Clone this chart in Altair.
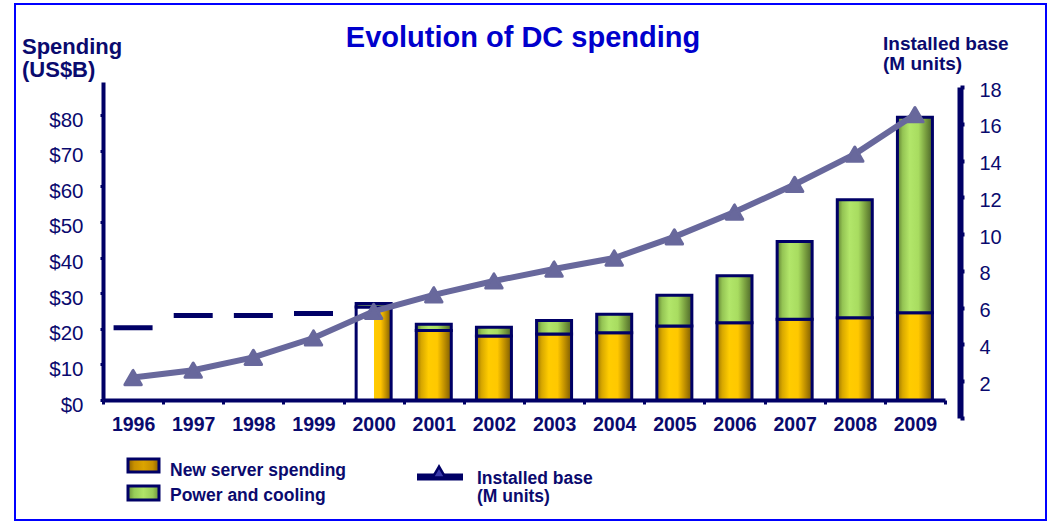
import altair as alt
import pandas as pd

# ---------------- data ----------------
years = [str(y) for y in range(1996, 2010)]
bar_years = ["2000", "2001", "2002", "2003", "2004", "2005", "2006", "2007", "2008", "2009"]
new_server = [26.1, 19.5, 18.0, 18.5, 18.9, 20.8, 21.7, 22.7, 23.1, 24.5]
total_spend = [27.1, 21.3, 20.4, 22.3, 24.1, 29.4, 34.9, 44.5, 56.2, 79.4]
pre_years = ["1996", "1997", "1998", "1999"]
pre_total = [20.3, 23.7, 23.7, 24.3]
installed = [2.2, 2.6, 3.3, 4.35, 5.8, 6.7, 7.45, 8.1, 8.7, 9.85, 11.2, 12.7, 14.35, 16.5]
left_ticks = [0, 10, 20, 30, 40, 50, 60, 70, 80]
right_ticks = [0, 2, 4, 6, 8, 10, 12, 14, 16, 18]

bars = pd.DataFrame({"year": bar_years, "new": new_server, "total": total_spend})
pre = pd.DataFrame({"year": pre_years, "total": pre_total})
base = pd.DataFrame({"year": years, "units": installed})

NAVY = "#000066"
TXT = "#0a0a6e"
LINE = "#68689c"
FONT = "Liberation Sans"
W, H = 842, 318


def grad(stops):
    return alt.Gradient(
        gradient="linear", x1=0, x2=1, y1=0, y2=0,
        stops=[alt.GradientStop(color=c, offset=o) for o, c in stops],
    )


yellow = grad([(0, "#9a7400"), (0.15, "#d8a800"), (0.35, "#ffcc00"), (0.6, "#ffc800"),
               (0.8, "#c09000"), (1, "#7a5a00")])
green = grad([(0, "#5e7e30"), (0.15, "#94c454"), (0.35, "#b2e66a"), (0.6, "#a8dc60"),
              (0.8, "#7aa040"), (1, "#4a6428")])
yellow2000 = grad([(0, "#ffffff"), (0.5, "#ffffff"), (0.5, "#ffcc00"), (0.7, "#ffc400"),
                   (0.85, "#c09000"), (1, "#7a5a00")])
swatch_y = grad([(0, "#8a6000"), (0.2, "#c89000"), (0.5, "#dca400"), (0.8, "#c89000"), (1, "#8a6000")])
swatch_g = grad([(0, "#6a9038"), (0.2, "#98cc58"), (0.5, "#b0e468"), (0.8, "#98cc58"), (1, "#6a9038")])

X = alt.X("year:N",
          scale=alt.Scale(domain=years, paddingInner=0, paddingOuter=0),
          axis=alt.Axis(title=None, labelAngle=0, tickBand="extent", grid=False,
                        domainColor=NAVY, domainWidth=4, tickColor=NAVY, tickWidth=3,
                        tickSize=4, labelFont=FONT, labelFontSize=19.5, labelFontWeight="bold",
                        labelColor=TXT, labelPadding=11))

yl_scale = alt.Scale(domain=[0, 89.3], nice=False, zero=False)
yl_axis = alt.Axis(values=left_ticks, labelExpr="'$' + datum.value", title=None, grid=False,
                   domainColor=NAVY, domainWidth=4, tickColor=NAVY, tickWidth=3, tickSize=3,
                   labelFont=FONT, labelFontSize=20.5, labelColor=TXT, labelPadding=17,
                   labelOffset=5)

yr_scale = alt.Scale(domain=[0, 18], range=[336, 5], nice=False, zero=False)
yr_axis = alt.Axis(orient="right", offset=15, values=right_ticks,
                   labelExpr="datum.value == 0 ? '' : datum.value", title=None, grid=False,
                   domainColor=NAVY, domainWidth=6, tickColor=NAVY, tickWidth=4, tickSize=4,
                   labelFont=FONT, labelFontSize=20, labelColor=TXT, labelPadding=15,
                   labelOffset=3)

bar_size = 35
b = alt.Chart(bars)
new_bars = b.transform_filter("datum.year != '2000'").mark_bar(
    size=bar_size, color=yellow, stroke=NAVY, strokeWidth=3).encode(
    x=X, y=alt.Y("new:Q", scale=yl_scale, axis=yl_axis))
pc_bars = b.transform_filter("datum.year != '2000'").mark_bar(
    size=bar_size, color=green, stroke=NAVY, strokeWidth=3).encode(
    x=X, y=alt.Y("new:Q", scale=yl_scale, axis=yl_axis), y2="total:Q")
new_2000 = b.transform_filter("datum.year == '2000'").mark_bar(
    size=bar_size, color=yellow2000, stroke=NAVY, strokeWidth=3).encode(
    x=X, y=alt.Y("new:Q", scale=yl_scale, axis=yl_axis))
pc_2000 = b.transform_filter("datum.year == '2000'").mark_bar(
    size=bar_size, color=green, stroke=NAVY, strokeWidth=3).encode(
    x=X, y=alt.Y("new:Q", scale=yl_scale, axis=yl_axis), y2="total:Q")
dashes = alt.Chart(pre).mark_tick(color=NAVY, thickness=5, size=39, opacity=1).encode(
    x=X, y=alt.Y("total:Q", scale=yl_scale, axis=yl_axis))

left = alt.layer(new_bars, pc_bars, new_2000, pc_2000, dashes)

ln = alt.Chart(base).mark_line(color=LINE, strokeWidth=6).encode(
    x=X, y=alt.Y("units:Q", scale=yr_scale, axis=yr_axis))
pts = alt.Chart(base).mark_point(shape="triangle-up", filled=True, size=270, color=LINE,
                                 stroke=LINE, strokeWidth=3, strokeJoin="round",
                                 opacity=1).encode(
    x=X, y=alt.Y("units:Q", scale=yr_scale, axis=yr_axis))
right = alt.layer(ln, pts)

one = alt.Data(values=[{}])


def text(t, x, y, size, weight="bold", color=TXT, align="left", line_height=None):
    kw = {}
    if line_height is not None:
        kw = {"lineBreak": "\n", "lineHeight": line_height}
    return alt.Chart(one).mark_text(text=t, font=FONT, fontSize=size, fontWeight=weight,
                                    color=color, align=align, baseline="alphabetic",
                                    **kw).encode(
        x=alt.value(x), y=alt.value(y))


frame = alt.Chart(one).mark_rect(fill="white", fillOpacity=0, stroke="#0000ff",
                                 strokeWidth=2).encode(
    x=alt.value(-88), x2=alt.value(943), y=alt.value(-78), y2=alt.value(438))

decor = [
    frame,
    text("Evolution of DC spending", 420, -35, 29, color="#0000cc", align="center"),
    text("Spending\n(US$B)", -81, -28, 22, line_height=23),
    text("Installed base\n(M units)", 780, -32, 19, line_height=20),
    alt.Chart(one).mark_rect(color=swatch_y, stroke=NAVY, strokeWidth=3).encode(
        x=alt.value(25), x2=alt.value(56), y=alt.value(377), y2=alt.value(390)),
    alt.Chart(one).mark_rect(color=swatch_g, stroke=NAVY, strokeWidth=3).encode(
        x=alt.value(25), x2=alt.value(56), y=alt.value(404), y2=alt.value(418)),
    text("New server spending", 67, 394, 17.5),
    text("Power and cooling", 67, 419, 17.5),
    alt.Chart(one).mark_rule(color=NAVY, strokeWidth=7).encode(
        x=alt.value(314), x2=alt.value(360), y=alt.value(395)),
    alt.Chart(one).mark_point(shape="triangle-up", filled=True, size=160, color="#3a3aaa",
                              stroke=NAVY, strokeWidth=2.5, opacity=1).encode(
        x=alt.value(336), y=alt.value(390)),
    text("Installed base\n(M units)", 374, 402, 17.5, line_height=18),
]

chart = alt.layer(left, right, *decor).resolve_scale(y="independent").properties(
    width=W, height=H,
    padding={"left": 103, "top": 82, "right": 105, "bottom": 123},
    autosize=alt.AutoSizeParams(type="none"),
    background="white",
).configure_view(stroke=None)

chart.save("out.html", embed_options={"renderer": "svg", "actions": False})
